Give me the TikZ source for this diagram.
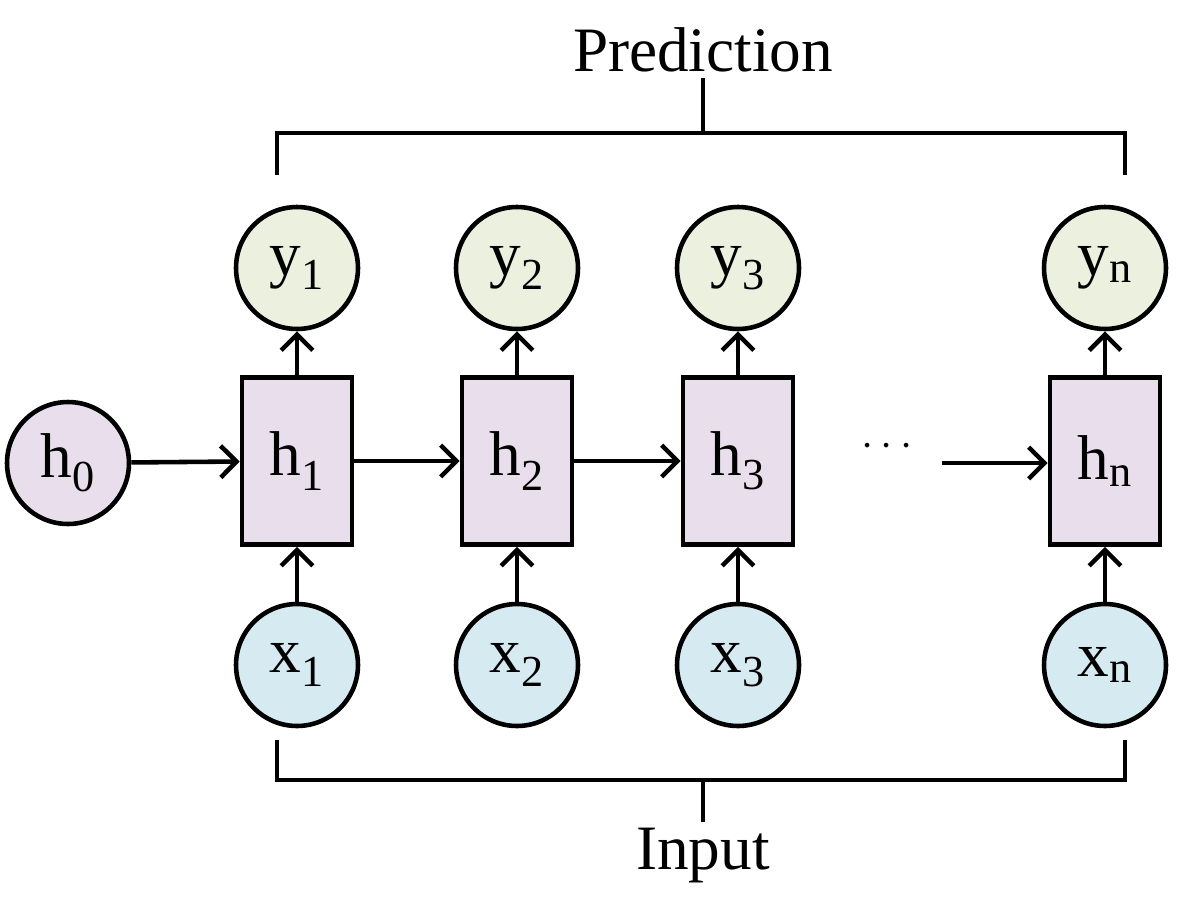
\documentclass[tikz,border=0pt]{standalone}
\usepackage{fontspec}
\setmainfont{Liberation Serif}
\usetikzlibrary{arrows.meta}
\definecolor{ygreen}{RGB}{236,240,222}
\definecolor{hpurple}{RGB}{232,222,236}
\definecolor{xblue}{RGB}{214,234,242}
\begin{document}
\begin{tikzpicture}[x=0.02cm,y=-0.02cm,
  every node/.style={font=\fontsize{36}{40}\selectfont},
  circ/.style={circle,draw,line width=2.6pt,minimum size=2.44cm,inner sep=0pt},
  box/.style={rectangle,draw,line width=2.6pt,minimum width=2.2cm,minimum height=3.34cm,fill=hpurple},
  arr/.style={-{Straight Barb[length=9pt,width=18pt]},line width=2.6pt},
  brk/.style={line width=2.6pt}]
\useasboundingbox (0,0) rectangle (1200,906);
\node[circ,fill=hpurple] (h0) at (68,463) {h\textsubscript{0}};
\foreach \i/\x in {1/297,2/517,3/738,n/1105}{
  \node[box] (h\i) at (\x,461) {h\textsubscript{\i}};
  \node[circ,fill=ygreen] (y\i) at (\x,268) {y\textsubscript{\i}};
  \node[circ,fill=xblue] (x\i) at (\x,665) {x\textsubscript{\i}};
  \draw[arr] (h\i) -- (y\i);
  \draw[arr] (x\i) -- (h\i);
}
\draw[arr] (h0) -- (h1);
\draw[arr] (h1) -- (h2);
\draw[arr] (h2) -- (h3);
\node[font=\fontsize{60}{60}\selectfont] (dots) at (887,447) {$\cdots$};
\coordinate (d) at (942,463);
\draw[arr] (d) -- (d -| hn.west);
\node (pred) at (703,50) {Prediction};
\node (inp) at (703,856) {Input};
\draw[brk] (277,175) -- (277,133) -- (1125,133) -- (1125,175);
\draw[brk] (pred.south |- 0,133) -- (pred.south);
\draw[brk] (277,740) -- (277,780) -- (1125,780) -- (1125,740);
\draw[brk] (inp.north |- 0,780) -- (inp.north);
\end{tikzpicture}
\end{document}
